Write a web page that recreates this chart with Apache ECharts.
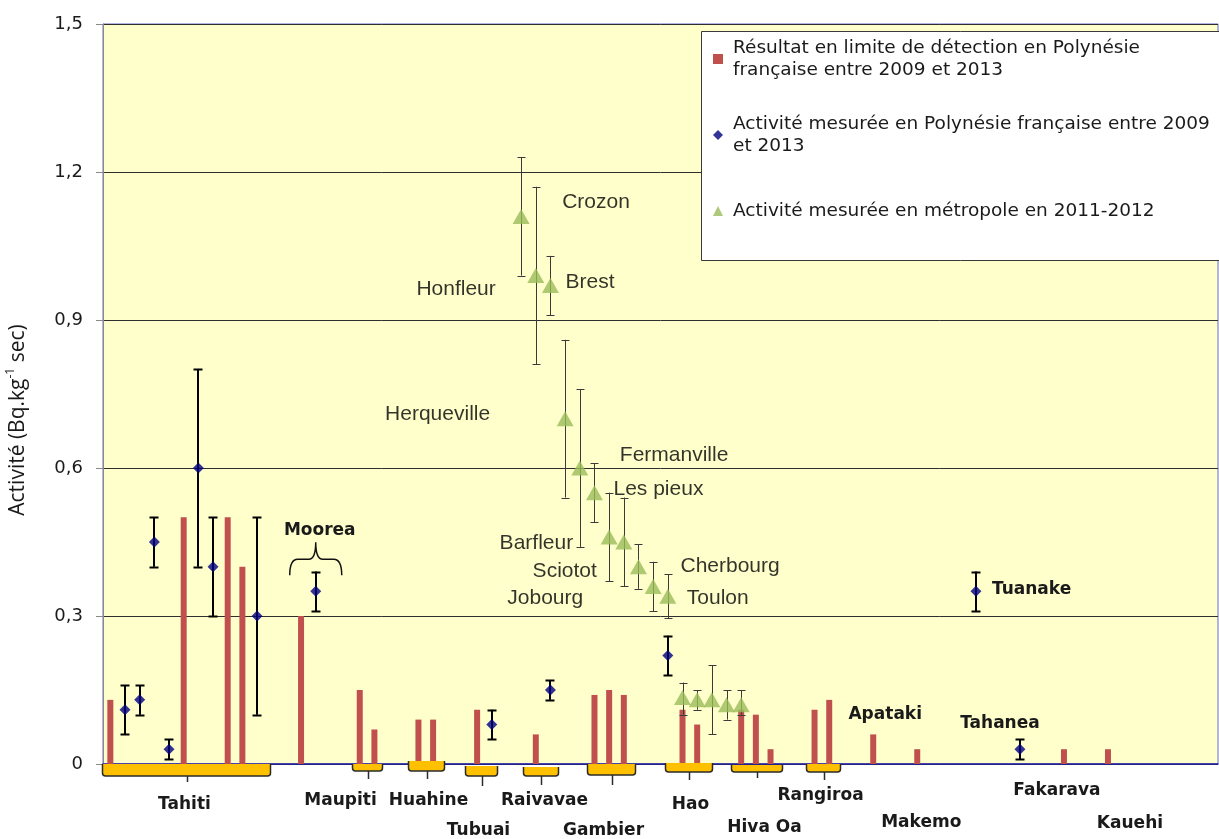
<!DOCTYPE html>
<html><head><meta charset="utf-8">
<script src="https://cdn.jsdelivr.net/npm/echarts/dist/echarts.min.js"></script>
<style>html,body{margin:0;padding:0;background:#fff;} #chart{width:1219px;height:839px;}</style>
</head><body><div id="chart"></div>
<script>
// ---------- DATA ----------
const categories = Array.from({length: 76}, (_, i) => 'p' + i);
const yTicks = [0, 0.3, 0.6, 0.9, 1.2, 1.5];

const seriesNames = [
  'Résultat en limite de détection en Polynésie\nfrançaise entre 2009 et 2013',
  'Activité mesurée en Polynésie française entre 2009\net 2013',
  'Activité mesurée en métropole en 2011-2012'
];

// limit-of-detection bars
const limitIdx = [0, 5, 8, 9, 13, 17, 18, 21, 22, 25, 29, 33, 34, 35, 39, 40, 43, 44, 45, 48, 49, 52, 55, 65, 68];
const limitVal = [0.13, 0.5, 0.5, 0.4, 0.3, 0.15, 0.07, 0.09, 0.09, 0.11, 0.06, 0.14, 0.15, 0.14, 0.11, 0.08, 0.11, 0.10, 0.03, 0.11, 0.13, 0.06, 0.03, 0.03, 0.03];

// measured in French Polynesia (diamonds)
const polyIdx  = [1, 2, 3, 4, 6, 7, 10, 14, 26, 30, 38, 59, 62];
const polyVal  = [0.11, 0.13, 0.45, 0.03, 0.60, 0.40, 0.30, 0.35, 0.08, 0.15, 0.22, 0.35, 0.03];
const polyLow  = [0.06, 0.10, 0.40, 0.01, 0.40, 0.30, 0.10, 0.31, 0.05, 0.13, 0.18, 0.31, 0.01];
const polyHigh = [0.16, 0.16, 0.50, 0.05, 0.80, 0.50, 0.50, 0.39, 0.11, 0.17, 0.26, 0.39, 0.05];

// measured in metropolitan France (triangles)
const metroIdx   = [28, 29, 30, 31, 32, 33, 34, 35, 36, 37, 38, 39, 40, 41, 42, 43];
const metroVal   = [1.11, 0.99, 0.97, 0.70, 0.60, 0.55, 0.46, 0.45, 0.40, 0.36, 0.34, 0.135, 0.13, 0.13, 0.12, 0.12];
const metroLow   = [0.99, 0.81, 0.91, 0.54, 0.44, 0.49, 0.37, 0.36, 0.355, 0.31, 0.295, 0.10, 0.11, 0.06, 0.09, 0.10];
const metroHigh  = [1.23, 1.17, 1.03, 0.86, 0.76, 0.61, 0.55, 0.54, 0.445, 0.41, 0.385, 0.165, 0.15, 0.20, 0.15, 0.15];
const metroNames = ['Crozon', 'Honfleur', 'Brest', 'Herqueville', 'Fermanville', 'Les pieux', 'Barfleur', 'Sciotot', 'Cherbourg', 'Jobourg', 'Toulon', '', '', '', '', ''];

// islands (groups of sample slots)
const islandNames = ['Tahiti', 'Maupiti', 'Huahine', 'Tubuai', 'Raivavae', 'Gambier', 'Hao', 'Hiva Oa', 'Rangiroa', 'Makemo', 'Fakarava', 'Kauehi'];
const islandFrom  = [0, 17, 21, 25, 29, 33, 38, 43, 48, 55, 65, 68];
const islandTo    = [10, 18, 22, 26, 30, 35, 40, 45, 49, 55, 65, 68];

// islands annotated inside the plot
const noteNames = ['Moorea', 'Apataki', 'Tahanea', 'Tuanake'];
const noteIdx   = [14, 52, 62, 59];
const noteVal   = [0.35, 0.06, 0.03, 0.35];

// ---------- LAYOUT (pixel offsets, not data) ----------
const metroLabelLayout = [
  ['left', 41, -14], ['right', -40, 14], ['left', 15, -3], ['right', -75, -4],
  ['left', 40, -13], ['left', 19, -3], ['right', -36, 6], ['right', -27, 29],
  ['left', 42, 0], ['right', -70, 12], ['left', 19, 2]
];
const braceLayout = [ // [dxLeft, dxRight, top, height, tick]
  [-8, 13, 0, 12, 6], [-8, 8, 0, 7, 8], [-10, 11, -3, 10, 8], [-12, 5, 2, 10, 10],
  [-13, 8, 3, 9, 9], [-7, 11, 0, 11, 10], [-3, 15, -1, 9, 8], [-10, 11, 1, 7, 6], [-9, 11, 0, 8, 8]
];
const islandLabelLayout = [ // [dx from group centre, dy below axis]
  [-2, 41], [-27, 37], [2, 37], [-3, 67], [3.5, 37], [-8, 67], [1.5, 41], [7.5, 64], [-3, 32], [4, 59], [-7, 27], [22, 60]
];
const noteLayout = [ // [align, dx, dy]
  ['center', 4, -61], ['center', 12, -20], ['center', -20, -26], ['left', 16, -2]
];

// ---------- CHART ----------
const chart = echarts.init(document.getElementById('chart'), null, {renderer: 'canvas'});
const txtColor = '#1a1a1a';
const boldFont = 'bold 17px "DejaVu Sans"';

function errRender(color, lw, capHalf) {
  return function (params, api) {
    const x = api.value(0);
    const lo = api.coord([x, api.value(1)]);
    const hi = api.coord([x, api.value(2)]);
    const cx = Math.round(lo[0]) + (lw % 2 ? 0.5 : 0);
    const st = {stroke: color, lineWidth: lw};
    return {type: 'group', children: [
      {type: 'line', shape: {x1: cx, y1: lo[1], x2: cx, y2: hi[1]}, style: st},
      {type: 'line', shape: {x1: cx - capHalf, y1: Math.round(hi[1]) + 0.5, x2: cx + capHalf, y2: Math.round(hi[1]) + 0.5}, style: st},
      {type: 'line', shape: {x1: cx - capHalf, y1: Math.round(lo[1]) + 0.5, x2: cx + capHalf, y2: Math.round(lo[1]) + 0.5}, style: st}
    ]};
  };
}

function islandRender(params, api) {
  const i = params.dataIndex;
  const p0 = api.coord([api.value(0), 0]);
  const p1 = api.coord([api.value(1), 0]);
  const axisY = p0[1];
  const children = [];
  let mid = (p0[0] + p1[0]) / 2;
  if (i < braceLayout.length) {
    const [dl, dr, top, h, tick] = braceLayout[i];
    const x0 = Math.round(p0[0] + dl) + 0.5, x1 = Math.round(p1[0] + dr) + 0.5;
    const y0 = axisY + top, y1 = axisY + top + h;
    const r = 3;
    mid = (x0 + x1) / 2;
    children.push({type: 'path', shape: {pathData:
      `M${x0},${y0} L${x0},${y1 - r} Q${x0},${y1} ${x0 + r},${y1} L${x1 - r},${y1} Q${x1},${y1} ${x1},${y1 - r} L${x1},${y0} Z`},
      style: {fill: '#FFC000', stroke: 'none'}});
    children.push({type: 'path', shape: {pathData:
      `M${x0},${y0} L${x0},${y1 - r} Q${x0},${y1} ${x0 + r},${y1} L${x1 - r},${y1} Q${x1},${y1} ${x1},${y1 - r} L${x1},${y0}`},
      style: {fill: 'none', stroke: '#2b2b2b', lineWidth: 1.5}});
    const mx = Math.round(mid) + 0.5;
    children.push({type: 'line', shape: {x1: mx, y1: y1, x2: mx, y2: y1 + tick}, style: {stroke: '#2b2b2b', lineWidth: 1.5}});
  }
  const [ldx, ldy] = islandLabelLayout[i];
  children.push({type: 'text', x: mid + ldx, y: axisY + ldy,
    style: {text: islandNames[i], font: boldFont, fill: txtColor, align: 'center', verticalAlign: 'middle'}});
  return {type: 'group', children};
}

function noteRender(params, api) {
  const i = params.dataIndex;
  const p = api.coord([api.value(0), api.value(1)]);
  const [al, dx, dy] = noteLayout[i];
  const children = [{type: 'text', x: p[0] + dx, y: p[1] + dy,
    style: {text: noteNames[i], font: boldFont, fill: txtColor, align: al, verticalAlign: 'middle'}}];
  if (i === 0) {
    const cx = p[0], cy = p[1];
    const path = `M${cx - 26},${cy - 16} Q${cx - 26},${cy - 32} ${cx - 18},${cy - 32} L${cx - 7},${cy - 32} Q${cx},${cy - 32} ${cx},${cy - 49} Q${cx},${cy - 32} ${cx + 7},${cy - 32} L${cx + 18},${cy - 32} Q${cx + 26},${cy - 32} ${cx + 26},${cy - 16}`;
    children.push({type: 'path', shape: {pathData: path}, style: {fill: 'none', stroke: '#111', lineWidth: 1.5}});
  }
  return {type: 'group', children};
}

const option = {
  animation: false,
  backgroundColor: '#ffffff',
  grid: {left: 103, right: 1, top: 24, bottom: 75, outerBoundsMode: 'none', containLabel: false,
    show: true, backgroundColor: '#FFFFCC', borderColor: '#6a6ac4', borderWidth: 1},
  xAxis: {
    type: 'category', data: categories, boundaryGap: true,
    axisLine: {show: true, onZero: false, lineStyle: {color: '#1f1fa3', width: 1.5}},
    axisTick: {show: false}, axisLabel: {show: false}, splitLine: {show: false}
  },
  yAxis: {
    type: 'value', min: yTicks[0], max: yTicks[yTicks.length - 1], interval: 0.3,
    axisLine: {show: true, lineStyle: {color: '#8a8a8a'}},
    axisTick: {show: true, length: 7, lineStyle: {color: '#8a8a8a'}},
    axisLabel: {margin: 20, fontFamily: 'DejaVu Sans', fontSize: 18, color: txtColor,
      formatter: v => v === 0 ? '0' : v.toFixed(1).replace('.', ',')},
    splitLine: {show: true, lineStyle: {color: '#2e2e2e', width: 1}},
    name: 'Activité (Bq.kg{sup|-1} sec)', nameLocation: 'middle', nameRotate: 90, nameGap: 72,
    nameTextStyle: {fontFamily: 'Open Sans', fontSize: 21, color: txtColor, lineHeight: 26, padding: [0, 52, 0, 0],
      rich: {sup: {fontFamily: 'Open Sans', fontSize: 12, lineHeight: 26, verticalAlign: 'top', color: txtColor}}}
  },
  legend: {
    orient: 'vertical', left: 713, top: 26, padding: 0, itemGap: 10, itemWidth: 10, itemHeight: 10,
    selectedMode: false, z: 20,
    textStyle: {fontFamily: 'DejaVu Sans', fontSize: 18.5, lineHeight: 22, color: txtColor},
    data: [
      {name: seriesNames[0], icon: 'rect', textStyle: {padding: [22, 0, 0, 5]}},
      {name: seriesNames[1], icon: 'diamond', textStyle: {padding: [22, 0, 0, 5]}},
      {name: seriesNames[2], icon: 'triangle', textStyle: {padding: [22, 0, 22, 5]}}
    ]
  },
  graphic: [{type: 'rect', z: 15, shape: {x: 701.5, y: 31.5, width: 540, height: 229},
    style: {fill: '#ffffff', stroke: '#3a3a3a', lineWidth: 1}}],
  series: [
    {
      name: seriesNames[0], type: 'bar', barWidth: 6, z: 2,
      itemStyle: {color: '#C0504D'},
      data: limitIdx.map((x, k) => [x, limitVal[k]])
    },
    {
      name: 'errPoly', type: 'custom', z: 3, renderItem: errRender('#000000', 2, 4.5),
      encode: {x: 0, y: [1, 2]},
      data: polyIdx.map((x, k) => [x, polyLow[k], polyHigh[k]])
    },
    {
      name: seriesNames[1], type: 'scatter', z: 4, symbol: 'diamond', symbolSize: 11,
      itemStyle: {color: '#000080'},
      data: polyIdx.map((x, k) => [x, polyVal[k]])
    },
    {
      name: 'errMetro', type: 'custom', z: 5, renderItem: errRender('#3a3a3a', 1, 4),
      encode: {x: 0, y: [1, 2]},
      data: metroIdx.map((x, k) => [x, metroLow[k], metroHigh[k]])
    },
    {
      name: seriesNames[2], type: 'scatter', z: 6, symbol: 'triangle', symbolSize: [17, 15],
      itemStyle: {color: '#9BBB59'},
      data: metroIdx.map((x, k) => {
        const item = {value: [x, metroVal[k]]};
        if (metroNames[k]) {
          const [al, dx, dy] = metroLabelLayout[k];
          item.label = {show: true, position: 'inside', formatter: metroNames[k], align: al, verticalAlign: 'middle',
            offset: [dx, dy], color: '#000000', textBorderWidth: 0, fontFamily: 'Liberation Sans', fontSize: 21};
        }
        return item;
      })
    },
    {
      name: 'islands', type: 'custom', z: 7, clip: false, renderItem: islandRender,
      encode: {x: [0, 1], y: 2}, silent: true,
      data: islandFrom.map((f, k) => [f, islandTo[k], 0])
    },
    {
      name: 'notes', type: 'custom', z: 7, clip: false, renderItem: noteRender,
      encode: {x: 0, y: 1}, silent: true,
      data: noteIdx.map((x, k) => [x, noteVal[k]])
    }
  ]
};
chart.setOption(option);
</script></body></html>
